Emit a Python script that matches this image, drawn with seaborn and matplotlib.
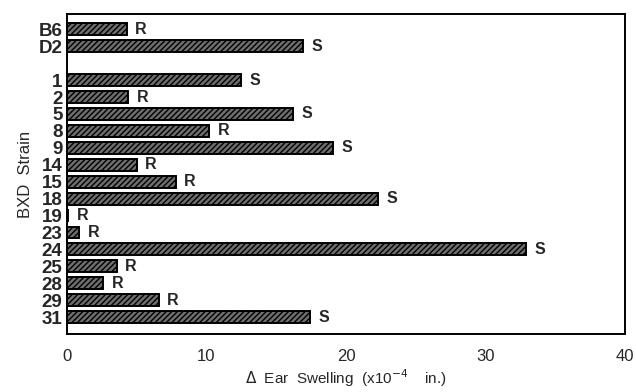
import pandas as pd
import seaborn as sns
import matplotlib.pyplot as plt

# strain, ear swelling (x10^-4 in.), phenotype
strains = ["B6", "D2", "1", "2", "5", "8", "9", "14", "15", "18",
           "19", "23", "24", "25", "28", "29", "31"]
swelling = [4.3, 16.9, 12.5, 4.4, 16.2, 10.2, 19.1, 5.0, 7.8, 22.3,
            0.1, 0.9, 32.9, 3.6, 2.6, 6.6, 17.4]
phenotype = ["R", "S", "S", "R", "S", "R", "S", "R", "R", "S",
             "R", "R", "S", "R", "R", "R", "S"]

# blank slot between parental strains and BXD lines
order = ["B6", "D2", " "] + strains[2:]

df = pd.DataFrame({"strain": strains, "swelling": swelling, "type": phenotype})

sns.set_style("white")
plt.rcParams["font.family"] = ["Liberation Sans", "DejaVu Sans"]
plt.rcParams["hatch.linewidth"] = 1.0

fig = plt.figure(figsize=(6.36, 3.92), dpi=100)
ax = fig.add_axes([0.105, 0.148, 0.878, 0.816])

sns.barplot(data=df, y="strain", x="swelling", order=order, orient="h",
            color="#6e6e6e", edgecolor="black", linewidth=1.4,
            width=0.7, ax=ax)
for p in ax.patches:
    p.set_hatch("//////")
    p.set_facecolor("#6e6e6e")

for s, v, t in zip(strains, swelling, phenotype):
    ax.annotate(t, xy=(v, order.index(s)), xytext=(6, 0),
                textcoords="offset points", va="center", ha="left",
                fontsize=11.5, fontweight="bold")

ax.set_xlim(0, 40)
ax.set_ylim(18.0, -0.9)
ax.set_xticks([0, 10, 20, 30, 40])
ax.set_xticks([5, 15, 25, 35], minor=True)
ax.tick_params(axis="x", which="both", direction="in", length=4, width=1.2,
               labelsize=12, pad=11)
ax.tick_params(axis="y", length=0, labelsize=13.5, pad=3)
for lab in ax.get_yticklabels():
    lab.set_fontweight("bold")

for sp in ax.spines.values():
    sp.set_visible(True)
    sp.set_color("black")
    sp.set_linewidth(1.4)

ax.set_ylabel("BXD  Strain", fontsize=12, labelpad=4)
ax.set_xlabel(r"$\Delta$  Ear  Swelling  (x10$^{-4}$    in.)", fontsize=11,
              labelpad=2)

fig.savefig("out.png", dpi=100)
